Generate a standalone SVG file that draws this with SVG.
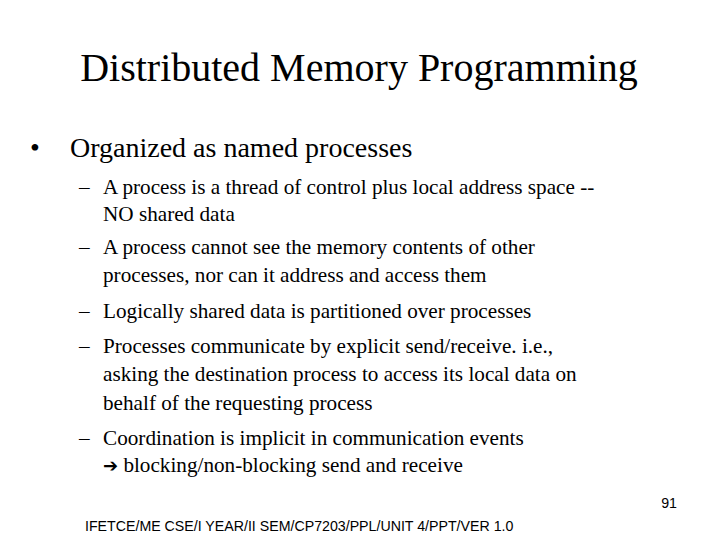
<svg xmlns="http://www.w3.org/2000/svg" width="720" height="540" viewBox="0 0 720 540">
<style>
.s{font-family:"Liberation Serif","Times New Roman",serif;fill:#000}
.f{font-family:"Liberation Sans",Arial,sans-serif;fill:#000;font-size:14.2px}
.t2{font-size:21.2px}
</style>
<rect width="720" height="540" fill="#fff"/>
<text class="s" x="359" y="81" font-size="40" text-anchor="middle">Distributed Memory Programming</text>
<text class="s" x="30" y="157" font-size="28">•</text>
<text class="s" x="70" y="157" font-size="28">Organized as named processes</text>
<g class="s t2">
<text x="79" y="194">–</text><text x="103" y="194">A process is a thread of control plus local address space --</text>
<text x="103" y="221">NO shared data</text>
<text x="79" y="254">–</text><text x="103" y="254">A process cannot see the memory contents of other</text>
<text x="103" y="282">processes, nor can it address and access them</text>
<text x="79" y="318">–</text><text x="103" y="318">Logically shared data is partitioned over processes</text>
<text x="79" y="353">–</text><text x="103" y="353">Processes communicate by explicit send/receive. i.e.,</text>
<text x="103" y="381">asking the destination process to access its local data on</text>
<text x="103" y="410">behalf of the requesting process</text>
<text x="79" y="445">–</text><text x="103" y="445">Coordination is implicit in communication events</text>
<text x="103" y="472"><tspan font-family="DejaVu Sans,sans-serif" font-size="18">➔</tspan> blocking/non-blocking send and receive</text>
</g>
<text class="f" x="677" y="508" text-anchor="end">91</text>
<text class="f" x="85" y="531">IFETCE/ME CSE/I YEAR/II SEM/CP7203/PPL/UNIT 4/PPT/VER 1.0</text>
</svg>
